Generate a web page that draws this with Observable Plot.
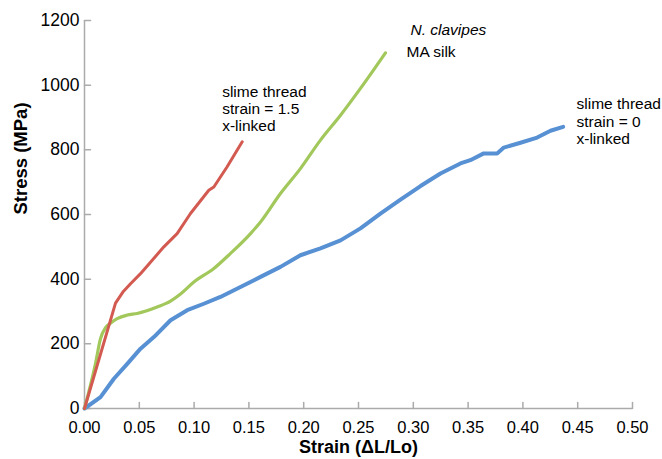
<!DOCTYPE html>
<html><head><meta charset="utf-8">
<script src="https://cdn.jsdelivr.net/npm/d3@7"></script>
<script src="https://cdn.jsdelivr.net/npm/@observablehq/plot@0.6"></script>
<style>body{margin:0;background:#fff;} #chart svg{display:block;}</style>
</head><body><div id="chart"></div>
<script>
// Slime thread, strain = 1.5, x-linked (red)
const redStrain = [0, 0.0283, 0.035, 0.042, 0.0511, 0.0724, 0.0845, 0.0967, 0.1134, 0.118, 0.130, 0.1439];
const redStress = [0, 326, 360, 386, 417, 500, 541, 603, 675, 685, 747, 825];
// N. clavipes MA silk (green)
const greenStrain = [0, 0.010, 0.0146, 0.0192, 0.0237, 0.0298, 0.039, 0.048, 0.0663, 0.0785, 0.0876, 0.0998, 0.118, 0.133, 0.1515, 0.1606, 0.1788, 0.197, 0.2153, 0.2336, 0.2518, 0.2746];
const greenStress = [0, 138, 216, 250, 264, 278, 289, 294, 314, 332, 354, 391, 433, 479, 541, 577, 665, 742, 830, 907, 990, 1100];
// Slime thread, strain = 0, x-linked (blue)
const blueStrain = [0, 0.0146, 0.0268, 0.039, 0.0511, 0.0633, 0.0785, 0.0937, 0.1089, 0.124, 0.1423, 0.1606, 0.1788, 0.197, 0.2153, 0.2336, 0.2518, 0.270, 0.2883, 0.3066, 0.3248, 0.343, 0.352, 0.3643, 0.3765, 0.3826, 0.3978, 0.413, 0.4252, 0.4367];
const blueStress = [0, 35, 92, 138, 185, 221, 273, 304, 324, 345, 376, 407, 438, 474, 495, 520, 557, 603, 646, 688, 727, 758, 768, 789, 789, 807, 822, 838, 859, 871];

const xTicks = [0, 0.05, 0.10, 0.15, 0.20, 0.25, 0.30, 0.35, 0.40, 0.45, 0.50];
const yTicks = [0, 200, 400, 600, 800, 1000, 1200];

// annotation texts and their anchor points (strain, stress)
const noteText = ["slime thread\nstrain = 1.5\nx-linked", "MA silk", "slime thread\nstrain = 0\nx-linked"];
const noteStrain = [0.1256, 0.2938, 0.4489];
const noteStress = [929, 1103, 889];
const italicText = ["N. clavipes"];
const italicStrain = [0.2974];
const italicStress = [1171];

const toRows = (xs, ys) => xs.map((x, i) => ({x, y: ys[i]}));
const red = toRows(redStrain, redStress);
const green = toRows(greenStrain, greenStress);
const blue = toRows(blueStrain, blueStress);
const notes = noteText.map((t, i) => ({t, x: noteStrain[i], y: noteStress[i]}));
const italics = italicText.map((t, i) => ({t, x: italicStrain[i], y: italicStress[i]}));

const axisGray = "#ababab";
// inward tick shape for vector marks
const tickShape = {draw(context, l) { context.moveTo(0, 0); context.lineTo(0, -l); }};

const chart = Plot.plot({
  width: 662,
  height: 459,
  marginLeft: 84,
  marginRight: 30,
  marginTop: 20,
  marginBottom: 51,
  style: {fontFamily: "'Liberation Sans', Arial, sans-serif", fontSize: "16px", color: "black", background: "white"},
  x: {domain: [0, 0.5]},
  y: {domain: [0, 1200]},
  marks: [
    Plot.axisX({ticks: xTicks, tickFormat: d3.format(".2f"), tickSize: 0, tickPadding: 13, fill: "black", label: null, fontSize: 16.5}),
    Plot.axisY({ticks: yTicks, tickFormat: d3.format("d"), tickSize: 0, tickPadding: 5, fill: "black", label: null, fontSize: 17.5}),
    Plot.vector(xTicks, {x: d => d, y: yTicks[0], length: 6, rotate: 0, anchor: "start", shape: tickShape, stroke: axisGray, strokeWidth: 1.5}),
    Plot.vector(yTicks, {x: xTicks[0], y: d => d, length: 6, rotate: 90, anchor: "start", shape: tickShape, stroke: axisGray, strokeWidth: 1.5}),
    Plot.ruleX([0], {stroke: axisGray, strokeWidth: 1.5}),
    Plot.ruleY([0], {stroke: axisGray, strokeWidth: 1.5}),
    Plot.text(["Strain (ΔL/Lo)"], {frameAnchor: "bottom", dy: 44, fontWeight: "bold", fontSize: 18, fill: "black"}),
    Plot.text(["Stress (MPa)"], {frameAnchor: "left", rotate: -90, dx: -63, fontWeight: "bold", fontSize: 18.5, fill: "black"}),
    Plot.line(blue, {x: "x", y: "y", stroke: "#5891d3", strokeWidth: 4, strokeLinejoin: "round", strokeLinecap: "round"}),
    Plot.line(green, {x: "x", y: "y", stroke: "#a2c85c", strokeWidth: 3.2, strokeLinejoin: "round", strokeLinecap: "round", curve: "monotone-x"}),
    Plot.line(red, {x: "x", y: "y", stroke: "#d35a50", strokeWidth: 3, strokeLinejoin: "round", strokeLinecap: "round"}),
    Plot.text(notes, {x: "x", y: "y", text: "t", textAnchor: "start", lineHeight: 1.1, fontSize: 15.5, fill: "black"}),
    Plot.text(italics, {x: "x", y: "y", text: "t", textAnchor: "start", fontSize: 15.5, fontStyle: "italic", fill: "black"})
  ]
});
document.getElementById("chart").appendChild(chart);
</script>
</body></html>
